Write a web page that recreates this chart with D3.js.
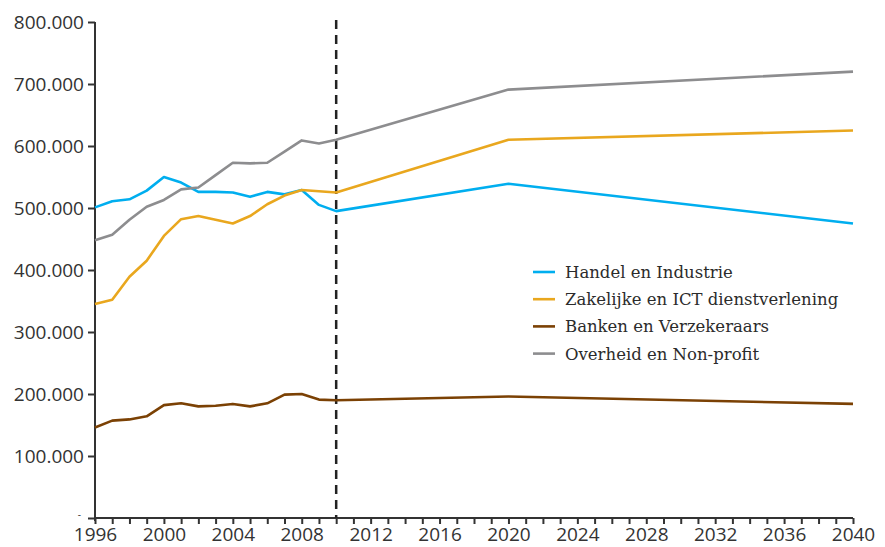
<!DOCTYPE html>
<html>
<head>
<meta charset="utf-8">
<script src="https://cdn.jsdelivr.net/npm/d3@7"></script>
<style>
  body { margin: 0; background: #fff; }
  .axis text { font-family: "Open Sans", sans-serif; font-size: 19px; fill: #333; }
  .axis path, .axis line { stroke: #333; stroke-width: 2; }
  .legend text { font-family: "DejaVu Serif", serif; font-size: 16.5px; fill: #2b2b2b; }
</style>
</head>
<body>
<div id="chart"></div>
<script>
var chart_width = 885;
var chart_height = 547;

// Years with data points
var years = [1996, 1997, 1998, 1999, 2000, 2001, 2002, 2003, 2004, 2005, 2006, 2007, 2008, 2009, 2010, 2020, 2040];

var handel = [501000, 511000, 514000, 528000, 550000, 541000, 526000, 526000, 525000, 518000, 526000, 522000, 529000, 505000, 495000, 539000, 475000];
var zakelijk = [345000, 352000, 389000, 415000, 455000, 482000, 487000, 481000, 475000, 487000, 506000, 520000, 529000, 527000, 525000, 610000, 625000];
var banken = [146000, 157000, 159000, 164000, 182000, 185000, 180000, 181000, 184000, 180000, 185000, 199000, 200000, 191000, 190000, 196000, 184000];
var overheid = [448000, 457000, 481000, 502000, 513000, 530000, 533000, 553000, 573000, 572000, 573000, 591000, 609000, 604000, 610000, 691000, 720000];

var series_names = ['Handel en Industrie', 'Zakelijke en ICT dienstverlening', 'Banken en Verzekeraars', 'Overheid en Non-profit'];
var series_values = [handel, zakelijk, banken, overheid];
var series_colors = ['#00aeef', '#e9a71e', '#7b4104', '#8d8d8f'];

var y_ticks = [0, 100000, 200000, 300000, 400000, 500000, 600000, 700000, 800000];
var x_label_years = [1996, 2000, 2004, 2008, 2012, 2016, 2020, 2024, 2028, 2032, 2036, 2040];
var split_year = 2010;

var svg = d3.select('#chart')
            .append('svg')
            .attr('width', chart_width)
            .attr('height', chart_height);

// Scales
var x_scale = d3.scaleLinear()
                .domain([1996, 2040])
                .range([95, 853]);

var y_scale = d3.scaleLinear()
                .domain([0, 800000])
                .range([518, 22]);

// Dutch number format: 800.000, zero shown as "-"
var fmt = d3.formatLocale({decimal: ',', thousands: '.', grouping: [3], currency: ['€', '']}).format(',d');

// Y axis
var y_axis = d3.axisLeft(y_scale)
               .tickValues(y_ticks)
               .tickSize(7)
               .tickPadding(4)
               .tickFormat((d) => {
                   return d === 0 ? '-' : fmt(d);
               });

svg.append('g')
    .attr('class', 'axis')
    .attr('transform', 'translate(95,0)')
    .call(y_axis)
    .call((g) => g.select('.domain').attr('d', 'M0,22V521'))
    // small "-" for zero, nudged so it clears the 1996 label
    .call((g) => g.selectAll('.tick text')
        .filter((d) => d === 0)
        .style('font-size', '10px')
        .attr('dx', -3)
        .attr('dy', '-0.08em'));

// X axis: a tick every year, label every 4 years
var x_axis = d3.axisBottom(x_scale)
               .tickValues(d3.range(1996, 2041))
               .tickSize(6)
               .tickPadding(3.5)
               .tickFormat((d) => {
                   return x_label_years.indexOf(d) >= 0 ? d : '';
               });

svg.append('g')
    .attr('class', 'axis')
    .attr('transform', 'translate(0,518)')
    .call(x_axis)
    .call((g) => g.select('.domain').attr('d', 'M95,0H853'));

// Dashed line marking the start of the forecast
svg.append('line')
    .attr('x1', x_scale(split_year))
    .attr('x2', x_scale(split_year))
    .attr('y1', 20)
    .attr('y2', 518)
    .attr('stroke', '#222')
    .attr('stroke-width', 2.5)
    .attr('stroke-dasharray', '9,6');

// Lines
var line = d3.line()
             .x((d, i) => {
                 return x_scale(years[i]);
             })
             .y((d) => {
                 return y_scale(d);
             });

svg.selectAll('.series')
    .data(series_values)
    .enter()
    .append('path')
    .attr('class', 'series')
    .attr('d', (d) => {
        return line(d);
    })
    .attr('fill', 'none')
    .attr('stroke', (d, i) => {
        return series_colors[i];
    })
    .attr('stroke-width', 2.6)
    .attr('stroke-linejoin', 'round');

// Legend
var legend = svg.append('g')
                .attr('class', 'legend')
                .attr('transform', 'translate(533,272)');

var items = legend.selectAll('g')
    .data(series_names)
    .enter()
    .append('g')
    .attr('transform', (d, i) => {
        return 'translate(0,' + (i * 27.2) + ')';
    });

items.append('line')
    .attr('x1', 0)
    .attr('x2', 22)
    .attr('y1', 0)
    .attr('y2', 0)
    .attr('stroke', (d, i) => {
        return series_colors[i];
    })
    .attr('stroke-width', 2.6);

items.append('text')
    .attr('x', 32)
    .attr('y', 6)
    .text((d) => {
        return d;
    });
</script>
</body>
</html>
